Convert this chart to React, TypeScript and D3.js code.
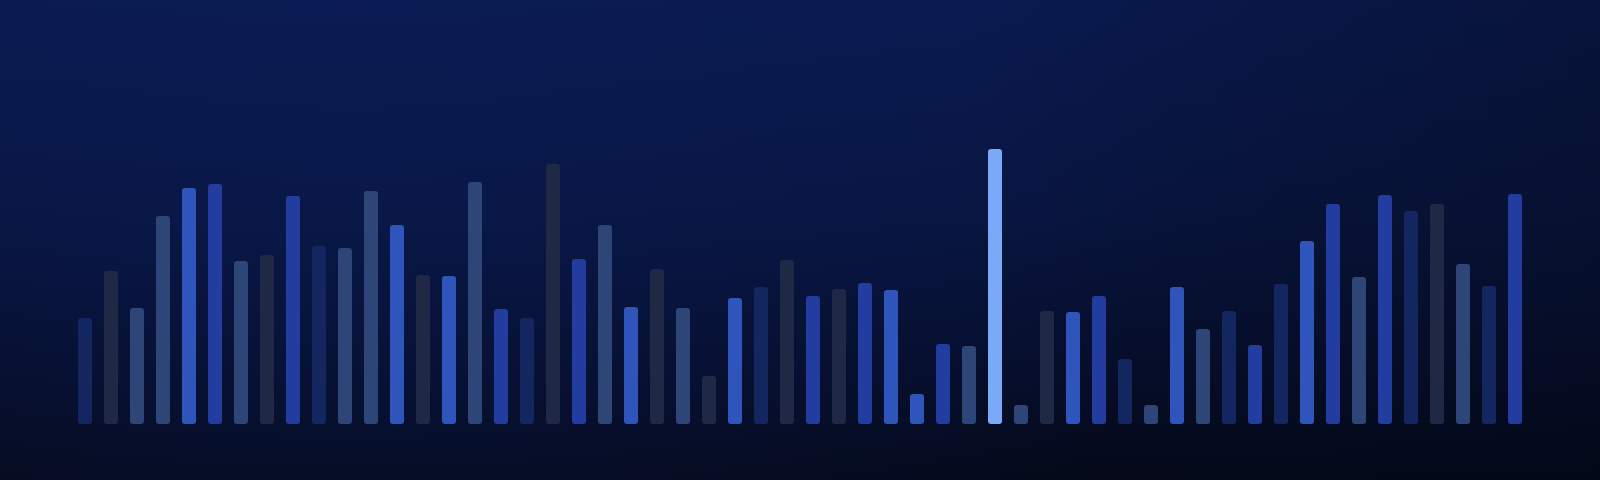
import React from "react";
import * as d3 from "d3";

const WIDTH = 1600;
const HEIGHT = 480;

// bar values (arbitrary units)
const values: number[] = [
  106, 153, 116, 208, 236, 240, 163, 169, 228, 178, 176, 233, 199, 149,
  148, 242, 115, 106, 260, 165, 199, 117, 155, 116, 48, 126, 137, 164,
  128, 135, 141, 134, 30, 80, 78, 275, 19, 113, 112, 128, 65, 19, 137,
  95, 113, 79, 140, 183, 220, 147, 229, 213, 220, 160, 138, 230,
];

// colour group of each bar
const groups: string[] = [
  "A", "B", "C", "C", "D", "E", "C", "B", "E", "A", "C", "C", "D", "B",
  "D", "C", "E", "A", "B", "E", "C", "D", "B", "C", "B", "D", "A", "B",
  "E", "B", "E", "D", "D", "E", "C", "F", "C", "B", "D", "E", "A", "C",
  "D", "C", "A", "E", "A", "D", "E", "C", "E", "A", "B", "C", "A", "E",
];

const groupKeys = ["A", "B", "C", "D", "E", "F"];
const groupColors = ["#142660", "#1f2845", "#2e4677", "#2f55bd", "#233c9f", "#7aa9f7"];

export default function App() {
  const idx = values.map((_, i) => i);
  const x = d3.scalePoint<number>().domain(idx).range([85, 1515]);
  const y = d3.scaleLinear().domain([0, 300]).range([424, 124]);
  const color = d3.scaleOrdinal<string, string>().domain(groupKeys).range(groupColors);
  const barW = 14;

  return (
    <div style={{ position: "fixed", left: 0, top: 0, width: WIDTH, height: HEIGHT }}>
      <svg width={WIDTH} height={HEIGHT} style={{ display: "block" }}>
        <defs>
          <linearGradient id="bg" x1="0" y1="0" x2="0" y2="1">
            <stop offset="0%" stopColor="#0a1a50" />
            <stop offset="45%" stopColor="#08153f" />
            <stop offset="75%" stopColor="#060e2c" />
            <stop offset="90%" stopColor="#050b20" />
            <stop offset="100%" stopColor="#040919" />
          </linearGradient>
          <radialGradient id="glow" cx="0.22" cy="0" r="0.55" gradientUnits="objectBoundingBox"
            gradientTransform="translate(0.22,0) scale(1,3.33) translate(-0.22,0)">
            <stop offset="0%" stopColor="#0c1d58" stopOpacity="0.45" />
            <stop offset="100%" stopColor="#0c1d58" stopOpacity="0" />
          </radialGradient>
          <linearGradient id="rightShade" x1="0" y1="0" x2="1" y2="0">
            <stop offset="60%" stopColor="#030816" stopOpacity="0" />
            <stop offset="100%" stopColor="#030816" stopOpacity="0.35" />
          </linearGradient>
        </defs>
        <rect x={0} y={0} width={WIDTH} height={HEIGHT} fill="url(#bg)" />
        <rect x={0} y={0} width={WIDTH} height={HEIGHT} fill="url(#glow)" />
        <rect x={0} y={0} width={WIDTH} height={HEIGHT} fill="url(#rightShade)" />
        <g>
          {values.map((v, i) => (
            <rect
              key={i}
              x={(x(i) as number) - barW / 2}
              y={y(v)}
              width={barW}
              height={y(0) - y(v)}
              rx={3}
              ry={3}
              fill={color(groups[i])}
            />
          ))}
        </g>
      </svg>
    </div>
  );
}
